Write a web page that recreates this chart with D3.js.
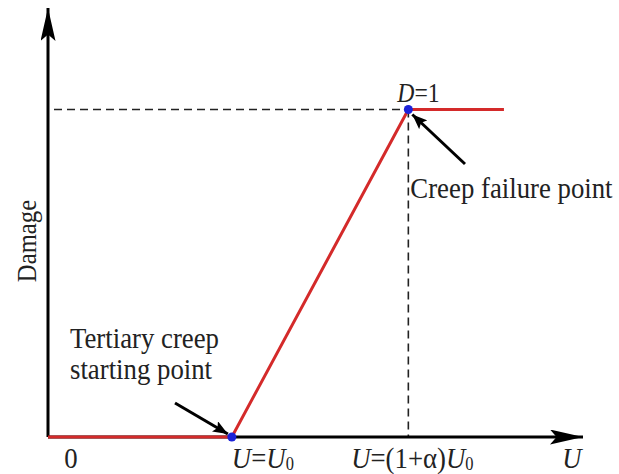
<!DOCTYPE html>
<html>
<head>
<meta charset="utf-8">
<script src="https://cdn.jsdelivr.net/npm/d3@7"></script>
<style>
  body { margin: 0; background: #fff; }
  svg { display: block; }
  text { font-family: "Liberation Serif", "Times New Roman", serif; fill: #222; }
</style>
</head>
<body>
<svg id="chart" width="619" height="474"></svg>
<script>
// displacement U (in units of U0) and damage D
const curveU = [0, 1, 1.96, 2.48];
const curveD = [0, 0, 1, 1];
const keyPoints = [[1, 0], [1.96, 1]];
const uMax = 2.91;
const dMax = 1.31;

const svg = d3.select("#chart");
const x = d3.scaleLinear().domain([0, uMax]).range([48, 583]);
const y = d3.scaleLinear().domain([0, dMax]).range([437, 8]);

const defs = svg.append("defs");
defs.append("marker").attr("id", "axisHead").attr("viewBox", "0 0 10 10")
  .attr("refX", 10).attr("refY", 5).attr("markerUnits", "userSpaceOnUse")
  .attr("markerWidth", 33).attr("markerHeight", 15).attr("orient", "auto")
  .attr("preserveAspectRatio", "none")
  .append("path").attr("d", "M0,0L10,5L0,10L2,5Z").attr("fill", "#000");
defs.append("marker").attr("id", "noteHead").attr("viewBox", "0 0 10 10")
  .attr("refX", 10).attr("refY", 5).attr("markerUnits", "userSpaceOnUse")
  .attr("markerWidth", 15).attr("markerHeight", 12).attr("orient", "auto")
  .attr("preserveAspectRatio", "none")
  .append("path").attr("d", "M0,0L10,5L0,10L2,5Z").attr("fill", "#000");

// guide lines to the failure point
const fail = keyPoints[1];
svg.append("path")
  .attr("d", `M${x(0) + 6},${y(fail[1])}H${x(fail[0])}M${x(fail[0])},${y(fail[1])}V${y(0)}`)
  .attr("fill", "none").attr("stroke", "#222").attr("stroke-width", 1.6)
  .attr("stroke-dasharray", "8,5");

// axes
svg.append("line").attr("x1", x(0)).attr("y1", y(0)).attr("x2", x(0)).attr("y2", y(dMax))
  .attr("stroke", "#000").attr("stroke-width", 3).attr("marker-end", "url(#axisHead)");
svg.append("line").attr("x1", x(0)).attr("y1", y(0)).attr("x2", x(uMax)).attr("y2", y(0))
  .attr("stroke", "#000").attr("stroke-width", 3).attr("marker-end", "url(#axisHead)");

// damage curve
const line = d3.line().x((d) => x(d[0])).y((d) => y(d[1]));
svg.append("path").datum(d3.zip(curveU, curveD))
  .attr("d", line).attr("fill", "none").attr("stroke", "#d42a2a").attr("stroke-width", 3);

svg.selectAll("circle.key").data(keyPoints).join("circle").attr("class", "key")
  .attr("cx", (d) => x(d[0])).attr("cy", (d) => y(d[1])).attr("r", 4.5).attr("fill", "#1c22d8");

// annotation arrows
svg.append("line").attr("x1", 465).attr("y1", 164).attr("x2", x(fail[0]) + 4).attr("y2", y(fail[1]) + 5)
  .attr("stroke", "#000").attr("stroke-width", 3).attr("marker-end", "url(#noteHead)");
const start = keyPoints[0];
svg.append("line").attr("x1", 175).attr("y1", 403).attr("x2", x(start[0]) - 4).attr("y2", y(start[1]) - 3)
  .attr("stroke", "#000").attr("stroke-width", 3).attr("marker-end", "url(#noteHead)");

// labels: the source text is slightly stretched vertically
const label = (px, py, size, anchor = "start", rotate = 0) =>
  svg.append("text")
    .attr("transform", `translate(${px},${py}) rotate(${rotate}) scale(1.03,1.15)`)
    .attr("text-anchor", anchor).attr("font-size", size);

const fs = 26;
label(x(0) + 23, 468, fs, "middle").text("0");

const u0 = label(x(start[0]), 468, fs);
u0.append("tspan").attr("font-style", "italic").text("U");
u0.append("tspan").text("=");
u0.append("tspan").attr("font-style", "italic").text("U");
u0.append("tspan").attr("font-size", 16).attr("dy", 2).text("0");

const uf = label(x(fail[0]) + 4, 468, fs, "middle");
uf.append("tspan").attr("font-style", "italic").text("U");
uf.append("tspan").text("=(1+α)");
uf.append("tspan").attr("font-style", "italic").text("U");
uf.append("tspan").attr("font-size", 16).attr("dy", 2).text("0");

label(x(uMax) - 11, 468, fs, "middle").attr("font-style", "italic").text("U");

const dl = label(x(fail[0]) - 11, 102, 23);
dl.append("tspan").attr("font-style", "italic").text("D");
dl.append("tspan").text("=1");

label(x(fail[0]) + 2, 198, fs).text("Creep failure point");
label(70, 348, fs).text("Tertiary creep");
label(70, 379, fs).text("starting point");

label(36, 241, 24, "middle", -90).text("Damage");
</script>
</body>
</html>
